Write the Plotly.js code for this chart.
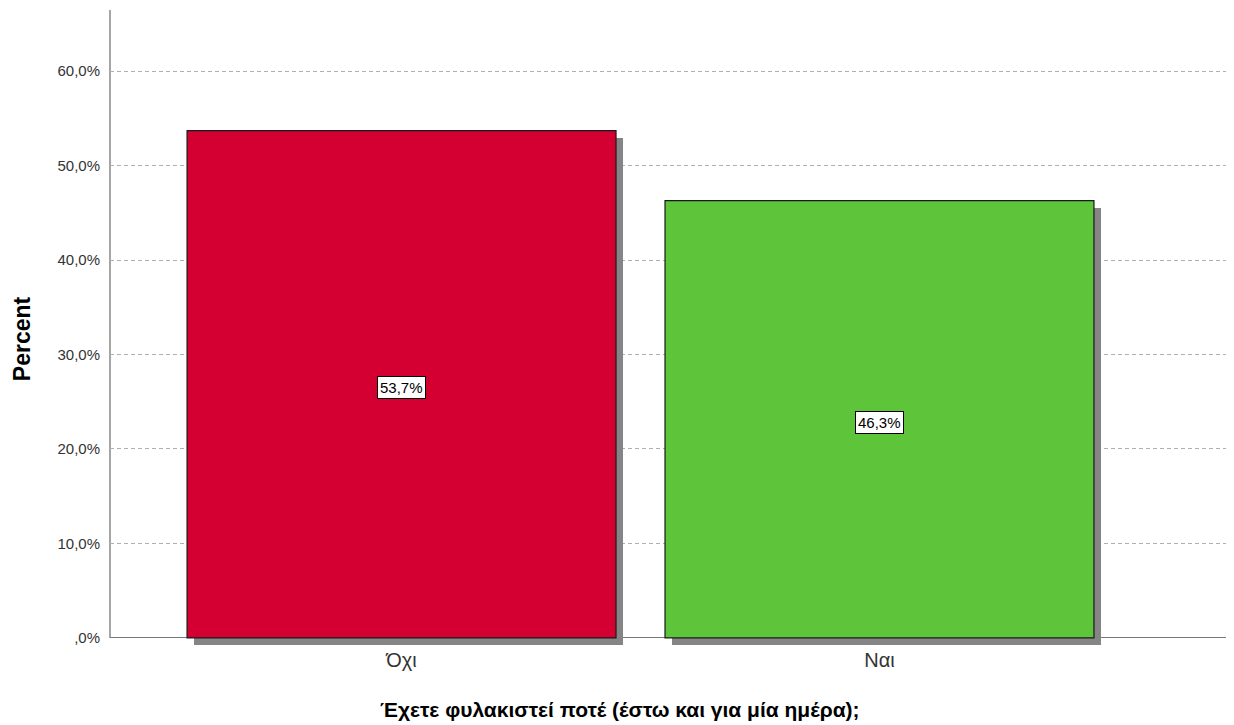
<!DOCTYPE html>
<html>
<head>
<meta charset="utf-8">
<script src="https://cdn.plot.ly/plotly-3.0.1.min.js"></script>
<style>html,body{margin:0;padding:0;background:#fff;}#chart{width:1234px;height:725px;}</style>
</head>
<body>
<div id="chart"></div>
<script>
const categories = ['Όχι', 'Ναι'];
const percents = [53.7, 46.3];
const valueLabels = ['53,7%', '46,3%'];
const tickValues = [0, 10, 20, 30, 40, 50, 60];
const tickLabels = [',0%', '10,0%', '20,0%', '30,0%', '40,0%', '50,0%', '60,0%'];
const barColors = ['#D50032', '#5EC43A'];
const xTitle = 'Έχετε φυλακιστεί ποτέ (έστω και για μία ημέρα);';
const yTitle = 'Percent';

const xIdx = categories.map((c, i) => i);
const pxPerUnitX = 478;
const shadowDx = 7 / pxPerUnitX;
const yMin = -0.75;
const yMax = 66.47;
const shadowDy = 0.75;

const shadow = {
  type: 'bar',
  x: xIdx.map(v => v + shadowDx),
  y: percents,
  base: percents.map(() => -shadowDy),
  width: 0.8975,
  marker: {color: '#858585', line: {width: 0}},
  hoverinfo: 'skip',
  showlegend: false
};
const bars = {
  type: 'bar',
  x: xIdx,
  y: percents,
  width: 0.8975,
  marker: {color: barColors, line: {color: '#1a1a1a', width: 1.2}},
  showlegend: false
};

const annotations = percents.map((p, i) => ({
  x: xIdx[i], y: p / 2 - 0.3, xref: 'x', yref: 'y',
  text: valueLabels[i], showarrow: false,
  font: {family: 'Liberation Sans, Arial, sans-serif', size: 15, color: '#000'},
  bgcolor: '#ffffff', bordercolor: '#000000', borderwidth: 1, borderpad: 2
}));
annotations.push({
  xref: 'paper', yref: 'paper', x: 0.457, y: -0.102, xanchor: 'center', yanchor: 'middle',
  text: xTitle, showarrow: false,
  font: {family: 'Liberation Sans, Arial, sans-serif', size: 21, color: '#000', weight: 'bold'}
});
annotations.push({
  xref: 'paper', yref: 'paper', x: -0.079, y: 0.483, xanchor: 'center', yanchor: 'middle',
  text: yTitle, showarrow: false, textangle: -90,
  font: {family: 'Liberation Sans, Arial, sans-serif', size: 23, color: '#000', weight: 'bold'}
});

const layout = {
  width: 1234, height: 725,
  margin: {l: 110, r: 8, t: 10, b: 80},
  paper_bgcolor: '#fff', plot_bgcolor: '#fff',
  barmode: 'overlay',
  bargap: 0,
  font: {family: 'Liberation Sans, Arial, sans-serif'},
  xaxis: {
    type: 'linear',
    range: [-0.610, 1.725],
    tickvals: xIdx, ticktext: categories,
    tickfont: {size: 20, color: '#333'},
    showgrid: false, zeroline: false, showline: false, ticks: '',
    ticklabelstandoff: 1
  },
  yaxis: {
    range: [yMin, yMax],
    tickvals: tickValues, ticktext: tickLabels,
    tickfont: {size: 15, color: '#333'},
    showgrid: true, gridcolor: '#b0b0b0', griddash: '4px,3px', gridwidth: 1,
    zeroline: true, zerolinecolor: '#777', zerolinewidth: 1,
    showline: false, ticks: '',
    ticklabelstandoff: 9
  },
  shapes: [{
    type: 'line', xref: 'paper', yref: 'y', x0: 0, x1: 0, y0: 0, y1: yMax,
    line: {color: '#888', width: 1.5}, layer: 'below'
  }],
  annotations: annotations
};

Plotly.newPlot('chart', [shadow, bars], layout, {displayModeBar: false, staticPlot: true});
</script>
</body>
</html>
